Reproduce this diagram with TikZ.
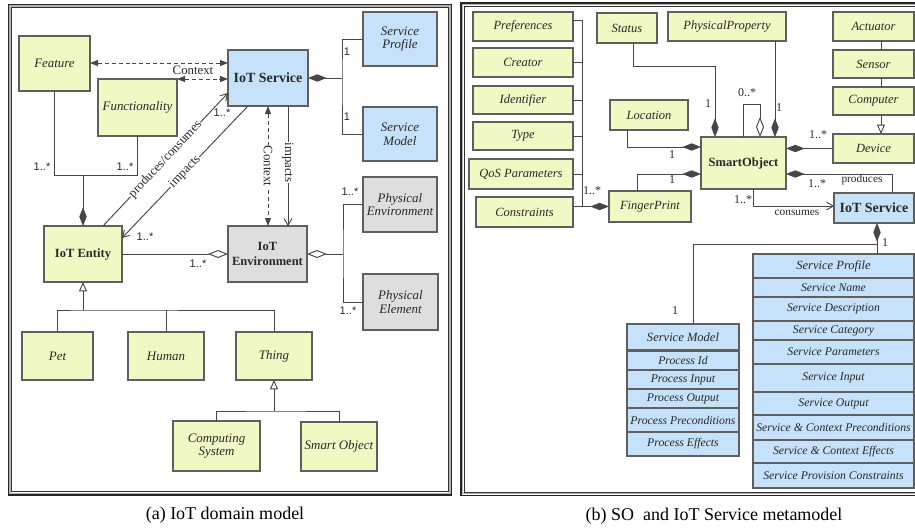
\documentclass[tikz,border=0pt]{standalone}
\usepackage{fontspec}
\setmainfont{Liberation Serif}
\newfontfamily\arialf{Liberation Sans}
\usetikzlibrary{arrows.meta}
\definecolor{yfill}{RGB}{240,248,195}
\definecolor{bfill}{RGB}{197,226,250}
\definecolor{gfill}{RGB}{222,222,222}
\definecolor{bord}{RGB}{95,95,95}
\definecolor{txt}{RGB}{40,40,40}
\definecolor{ln}{RGB}{70,70,70}
\newcommand{\umlbox}[7]{\node[#6, minimum width={(#4-#2)*0.75pt}, minimum height={(#5-#3)*0.75pt}] (#1) at ({(#2+#4)/2},{(#3+#5)/2}) {#7};}
\begin{document}
\begin{tikzpicture}[x=0.75pt,y=-0.75pt,
 box/.style={draw=bord, line width=0.8pt, inner sep=1pt, outer sep=0pt, text=txt, align=center},
 ybox/.style={box, fill=yfill},
 bbox/.style={box, fill=bfill},
 gbox/.style={box, fill=gfill},
 itl/.style={font=\fontsize{9.7}{10.2}\selectfont\itshape},
 itr/.style={font=\fontsize{9.4}{10}\selectfont\itshape},
 itrow/.style={font=\fontsize{8.8}{10}\selectfont\itshape},
 bfs/.style={font=\fontsize{9.4}{11.2}\selectfont\bfseries},
 bfl/.style={font=\fontsize{10.5}{12}\selectfont\bfseries},
 conn/.style={draw=ln, line width=0.7pt},
 todia/.style={conn, -{Diamond[length=14pt,width=5.5pt]}},
 fromdia/.style={conn, {Diamond[length=14pt,width=5.5pt]}-},
 toodia/.style={conn, -{Diamond[open,fill=white,length=15pt,width=6pt]}},
 fromodia/.style={conn, {Diamond[open,fill=white,length=15pt,width=6pt]}-},
 ctx/.style={conn, dash pattern=on 3pt off 2.2pt, {Triangle[length=6pt,width=4.5pt]}-{Triangle[length=6pt,width=4.5pt]}},
 toarr/.style={conn, -{Straight Barb[length=5pt,width=6pt]}},
 gen/.style={conn, -{Triangle[open,fill=white,length=7pt,width=6pt]}},
 mult/.style={font=\arialf\fontsize{8.3}{9}\selectfont, text=txt, inner sep=0pt},
 rmult/.style={font=\fontsize{9}{10}\selectfont, text=txt, inner sep=0pt},
 lbl/.style={font=\fontsize{9.6}{10}\selectfont, text=txt, inner sep=0.5pt},
 slbl/.style={font=\fontsize{8.5}{10}\selectfont, text=txt, inner sep=0pt},
 captxt/.style={font=\fontsize{13.5}{15}\selectfont, text=black}
]
\useasboundingbox (0,0) rectangle (915,529);
% frames
\draw[line width=1.3pt, black!85] (8.5,4.5) rectangle (451.5,495);
\draw[line width=0.9pt, gray!60] (10,6) rectangle (450,493.3);
\draw[line width=0.7pt, black!80] (11.5,7.5) rectangle (448.5,491.5);
\draw[line width=1.3pt, black!85] (461,3) rectangle (921,495.5);
\draw[line width=0.9pt, gray!60] (462.5,4.7) rectangle (919,493.8);
\draw[line width=0.7pt, black!80] (464,6.5) rectangle (917,492);

% ===== left panel boxes
\umlbox{feature}{19}{36}{90}{91}{ybox,itl}{Feature}
\umlbox{func}{98}{79}{177}{136}{ybox,itl}{Functionality}
\umlbox{lsvc}{228}{50}{308}{106}{bbox,bfl}{IoT Service}
\umlbox{sprof}{363}{12}{437}{66}{bbox,itl}{Service\\Profile}
\umlbox{smodel}{363}{107}{437}{161}{bbox,itl}{Service\\Model}
\umlbox{penv}{363}{177}{437}{232}{gbox,itl}{Physical\\Environment}
\umlbox{entity}{44}{226}{122}{282}{ybox,bfs}{IoT Entity}
\umlbox{ienv}{228}{226}{307}{282}{gbox,bfs}{IoT\\Environment}
\umlbox{pelem}{363}{274}{438}{330}{gbox,itl}{Physical\\Element}
\umlbox{pet}{22}{332}{93}{380}{ybox,itl}{Pet}
\umlbox{human}{128}{332}{204}{380}{ybox,itl}{Human}
\umlbox{thing}{236}{332}{312}{380}{ybox,itl}{Thing}
\umlbox{compsys}{173}{421}{260}{471}{ybox,itl}{Computing\\System}
\umlbox{smobj}{301}{422}{377}{471}{ybox,itl}{Smart Object}

% ===== left panel connectors
\draw[ctx] (feature.east |- 0,63) -- (lsvc.west |- 0,63);
\draw[ctx] (func.north east) -- (lsvc.west |- func.north east);
\node[lbl] (lctx) at (193,70) {Context};

\coordinate (j1) at (83,175);
\draw[conn] (feature.south) |- (j1);
\draw[conn] (func.south) |- (j1);
\draw[todia] (j1) -- (entity.north);
\node[mult] (m1) at (42,167) {1..*};
\node[mult] (m2) at (125,167) {1..*};

\draw[toarr] (entity.north -| 103,0) -- (lsvc.west |- 0,93)
  node[midway, sloped, fill=white, lbl] (lpc) {produces/consumes};
\draw[toarr] (lsvc.south -| 248,0) -- (entity.east |- 0,238)
  node[midway, sloped, fill=white, lbl] (limp) {impacts};
\node[mult] (m3) at (222,113) {1..*};
\node[mult] (m4) at (145,237) {1..*};

\draw[ctx] (lsvc.south -| 268,0) -- (ienv.north -| 268,0)
  node[midway, rotate=-90, fill=white, lbl] (lctx2) {Context};
\draw[toarr] (lsvc.south -| 288,0) -- (ienv.north -| 288,0)
  node[pos=0.47, rotate=-90, fill=white, lbl] (limp2) {impacts};

\coordinate (j2) at (342,78);
\draw[fromdia] (lsvc.east) -- (j2);
\draw[conn] (sprof.west) -| (j2) |- (smodel.west);
\node[mult] (m5) at (347,52) {1};
\node[mult] (m6) at (347,117) {1};

\draw[toodia] (entity.east) -- (ienv.west);
\node[mult] (m7) at (198,264) {1..*};

\coordinate (j3) at (343,254);
\draw[fromodia] (ienv.east) -- (j3);
\draw[conn] (penv.west) -| (j3) |- (pelem.west);
\node[mult] (m8) at (350,192) {1..*};
\node[mult] (m9) at (348,311) {1..*};

\coordinate (g1) at (83,310);
\draw[gen] (g1) -- (entity.south);
\draw[conn] (pet.north) |- (g1) -| (thing.north);
\draw[conn] (human.north) -- (human.north |- g1);
\coordinate (g2) at (274,411);
\draw[gen] (g2) -- (thing.south);
\draw[conn] (compsys.north) |- (g2) -| (smobj.north);

\node[captxt] (capa) at (225,515) {(a) IoT domain model};

% ===== right panel boxes
\umlbox{pref}{473}{12}{573}{41}{ybox,itr}{Preferences}
\umlbox{creator}{473}{48}{573}{77}{ybox,itr}{Creator}
\umlbox{ident}{473}{86}{573}{114}{ybox,itr}{Identifier}
\umlbox{typebox}{473}{122}{573}{150}{ybox,itr}{Type}
\umlbox{qos}{469}{159}{573}{189}{ybox,itr}{QoS Parameters}
\umlbox{constr}{476}{197}{573}{227}{ybox,itr}{Constraints}
\umlbox{status}{597}{13}{657}{43}{ybox,itr}{Status}
\umlbox{pprop}{668}{12}{786}{41}{ybox,itr}{PhysicalProperty}
\umlbox{actuator}{833}{12}{914}{41}{ybox,itr}{Actuator}
\umlbox{sensor}{833}{50}{914}{78}{ybox,itr}{Sensor}
\umlbox{computer}{833}{87}{914}{115}{ybox,itr}{Computer}
\umlbox{device}{833}{134}{914}{163}{ybox,itr}{Device}
\umlbox{location}{610}{100}{688}{130}{ybox,itr}{Location}
\umlbox{so}{701}{137}{786}{189}{ybox,bfs}{SmartObject}
\umlbox{fp}{609}{191}{691}{222}{ybox,itr}{FingerPrint}
\umlbox{rsvc}{834}{193}{914}{223}{bbox,bfl}{IoT Service}

\umlbox{smh}{627}{324}{739}{350}{bbox,itr}{Service Model}
\umlbox{sm1}{627}{351}{739}{370}{bbox,itrow}{Process Id}
\umlbox{sm2}{627}{370}{739}{389}{bbox,itrow}{Process Input}
\umlbox{sm3}{627}{389}{739}{408}{bbox,itrow}{Process Output}
\umlbox{sm4}{627}{408}{739}{432}{bbox,itrow}{Process Preconditions}
\umlbox{sm5}{627}{432}{739}{456}{bbox,itrow}{Process Effects}

\umlbox{sph}{753}{254}{914}{278}{bbox,itr}{Service Profile}
\umlbox{sp1}{753}{278}{914}{297}{bbox,itrow}{Service Name}
\umlbox{sp2}{753}{297}{914}{321}{bbox,itrow}{Service Description}
\umlbox{sp3}{753}{321}{914}{340}{bbox,itrow}{Service Category}
\umlbox{sp4}{753}{340}{914}{364}{bbox,itrow}{Service Parameters}
\umlbox{sp5}{753}{364}{914}{392}{bbox,itrow}{Service Input}
\umlbox{sp6}{753}{392}{914}{415}{bbox,itrow}{Service Output}
\umlbox{sp7}{753}{415}{914}{440}{bbox,itrow}{Service \& Context Preconditions}
\umlbox{sp8}{753}{440}{914}{463}{bbox,itrow}{Service \& Context Effects}
\umlbox{sp9}{753}{463}{914}{488}{bbox,itrow}{Service Provision Constraints}

% ===== right panel connectors
\coordinate (c1) at (582,206);
\draw[conn] (pref.east |- 0,20) -| (c1);
\draw[conn] (creator.east) -- (creator.east -| c1);
\draw[conn] (ident.east) -- (ident.east -| c1);
\draw[conn] (typebox.east) -- (typebox.east -| c1);
\draw[conn] (qos.east) -- (qos.east -| c1);
\draw[todia] (constr.east |- fp.west) -- (fp.west);
\node[rmult] (r1) at (592,191) {1..*};

\coordinate (st) at (715,66);
\draw[todia] (status.south -| 633,0) |- (st) -- (so.north -| st);
\node[rmult] (r2) at (708,104) {1};
\draw[todia] (pprop.south -| 775,0) -- (so.north -| 775,0);
\node[rmult] (r3) at (779,108) {1};
\coordinate (lp) at (760,104);
\draw[toodia] (so.north -| 743,0) |- (lp) -- (so.north -| lp);
\node[rmult] (r4) at (747,93) {0..*};

\draw[todia] (location.south -| 627,0) |- (so.west |- 0,147);
\node[rmult] (r5) at (672,155) {1};
\draw[todia] (fp.north -| 637,0) |- (so.west |- 0,174);
\node[rmult] (r6) at (672,180) {1};

\draw[conn] (actuator.south -| 881,0) -- (sensor.north -| 881,0);
\draw[conn] (sensor.south -| 881,0) -- (computer.north -| 881,0);
\draw[gen] (computer.south -| 881,0) -- (device.north -| 881,0);

\draw[fromdia] (so.east |- device.west) -- (device.west);
\node[rmult] (r7) at (818,135) {1..*};

\draw[fromdia] (so.east |- 0,174) -| (rsvc.north -| 892,0);
\node[rmult] (r8) at (817,184) {1..*};
\node[slbl] (lprod) at (862,180) {produces};

\draw[toarr] (so.south -| 753,0) |- (rsvc.west |- 0,206);
\node[rmult] (r9) at (743,200) {1..*};
\node[slbl] (lcons) at (797,213) {consumes};

\coordinate (k) at (877,244);
\draw[fromdia] (rsvc.south -| k) -- (sph.north -| k);
\draw[conn] (k) -| (smh.north -| 693,0);
\node[rmult] (r10) at (885,243) {1};
\node[rmult] (r11) at (675,311) {1};

\node[captxt] (capb) at (714,516) {(b) SO\ \ and IoT Service metamodel};
\end{tikzpicture}
\end{document}
